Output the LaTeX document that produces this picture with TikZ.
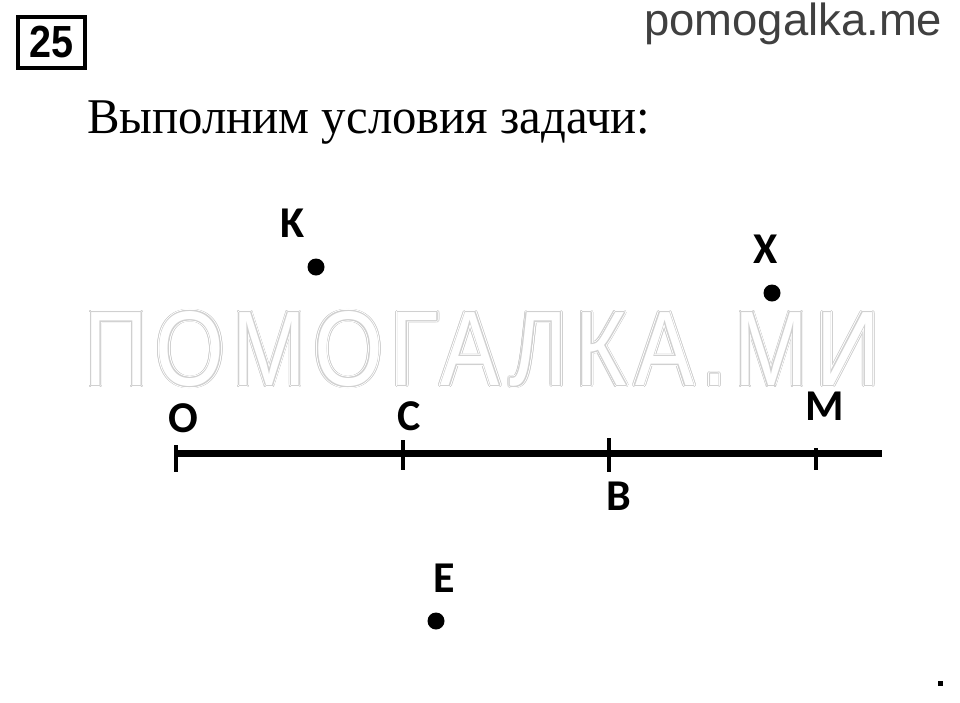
\documentclass[tikz,border=0pt]{standalone}
\usepackage{fontspec}
\setmainfont{Liberation Serif}
\newfontfamily\titlefont{Liberation Serif}
\newfontfamily\labfont{Carlito}
\newfontfamily\arialfont{Liberation Sans}
\newfontfamily\wmfont{Liberation Sans}[LetterSpace=9]
\usepackage{graphicx}
\usetikzlibrary{calc}
\definecolor{wmgray}{HTML}{D0D0D0}
\definecolor{sitegray}{HTML}{404040}
\newcommand\wmtext{\resizebox{795pt}{\height}{\fontsize{106}{106}\selectfont\wmfont ПОМОГАЛКА.МИ}}
\begin{document}
\begin{tikzpicture}[x=1pt,y=-1pt,
  lbl/.style={font=\labfont\bfseries\fontsize{44}{44}\selectfont, anchor=base, inner sep=0pt},
  dotpt/.style={circle, fill=black, minimum size=17pt, inner sep=0pt},
  tickline/.style={line width=4.5pt},
  axisline/.style={line width=7pt},
  wm/.style={inner sep=0pt}]
\fill[white] (0,0) rectangle (960,702);
\useasboundingbox (0,0) rectangle (960,702);
% watermark
\coordinate (wmc) at (482,349);
\foreach \a in {0,15,...,345} \node[wm, text=wmgray] at ($(wmc)+(\a:2.4)$) {\wmtext};
\foreach \a in {0,15,...,345} \node[wm, text=white] at ($(wmc)+(\a:1.6)$) {\wmtext};
\foreach \a in {0,22.5,...,337.5} \node[wm, text=wmgray] at ($(wmc)+(\a:0.8)$) {\wmtext};
\node[wm, text=white] (wmark) at (wmc) {\wmtext};
% header
\node[draw, line width=4pt, minimum width=67pt, minimum height=51pt, inner sep=0pt] (num) at (51.5,42.5)
  {\resizebox{44pt}{\height}{\arialfont\bfseries\fontsize{45}{45}\selectfont 25}};
\node[anchor=base west, inner sep=0pt, text=sitegray] (site) at (644,35)
  {\resizebox{298pt}{\height}{\arialfont\fontsize{45}{45}\selectfont pomogalka.me}};
\node[anchor=base west, inner sep=0pt] (title) at (87,133)
  {\resizebox{563pt}{\height}{\titlefont\fontsize{50}{50}\selectfont Выполним условия задачи:}};
% axis
\coordinate (tO) at (176,453);
\coordinate (tC) at (403,453);
\coordinate (tB) at (609,453);
\coordinate (tM) at (816,453);
\coordinate (tEnd) at (882,453);
\draw[axisline] (tO) -- (tEnd);
\draw[tickline] ($(tO)+(0,-8)$) -- ($(tO)+(0,19)$);
\draw[tickline] ($(tC)+(0,-13)$) -- ($(tC)+(0,17)$);
\draw[tickline] ($(tB)+(0,-15)$) -- ($(tB)+(0,19)$);
\draw[tickline] ($(tM)+(0,-5)$) -- ($(tM)+(0,17)$);
\node[lbl] (lO) at (183,432) {O};
\node[lbl] (lC) at (409,430) {C};
\node[lbl] (lM) at (825,420) {M};
\node[lbl] (lB) at (619,510) {B};
% points
\node[dotpt] (K) at (316,267) {};
\node[dotpt] (X) at (772,293) {};
\node[dotpt] (E) at (436,621) {};
\node[lbl] (lK) at (293,237) {K};
\node[lbl] (lX) at (766,263) {X};
\node[lbl] (lE) at (444,592) {E};
\node[fill=black, minimum size=5pt, inner sep=0pt] (sq) at (940.5,683.5) {};
\end{tikzpicture}
\end{document}
